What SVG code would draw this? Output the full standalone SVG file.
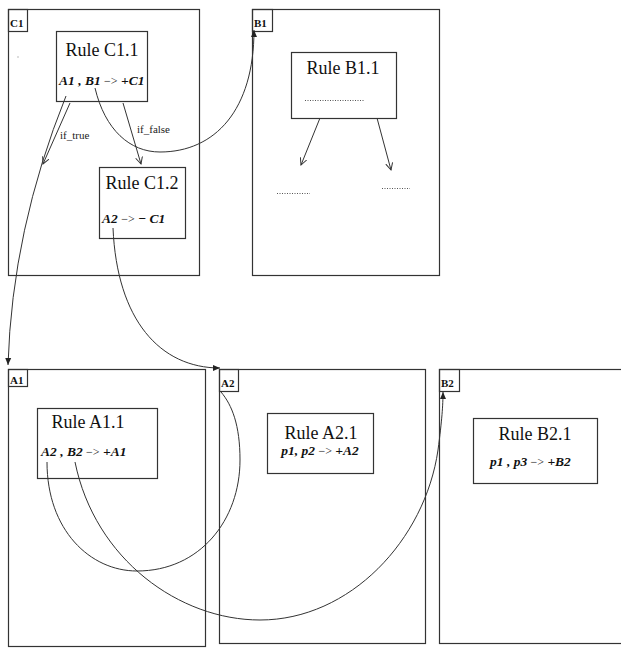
<svg xmlns="http://www.w3.org/2000/svg" width="621" height="649" viewBox="0 0 621 649">
<style>
.frame{fill:none;stroke:#333;stroke-width:1.2}
.box{fill:#fff;stroke:#333;stroke-width:1.2}
.lbl{font-family:"Liberation Serif","Times New Roman",serif;font-weight:bold;font-size:11px;fill:#111}
.title{font-family:"Liberation Serif","Times New Roman",serif;font-size:18px;fill:#111;text-anchor:middle}
.f{font-family:"Liberation Serif","Times New Roman",serif;font-size:13.5px;font-weight:bold;font-style:italic;fill:#111}
.op{font-weight:normal;font-style:normal;font-size:12px}
.small{font-family:"Liberation Serif","Times New Roman",serif;font-size:11px;fill:#222}
.c{fill:none;stroke:#333;stroke-width:1}
.dots{stroke:#555;stroke-width:1;stroke-dasharray:1 1.5}
</style>
<defs>
<marker id="v" markerWidth="8" markerHeight="8" refX="7" refY="4" orient="auto" markerUnits="userSpaceOnUse">
<path d="M0,0.5 L7,4 L0,7.5" fill="none" stroke="#333" stroke-width="1"/>
</marker>
<marker id="t" markerWidth="8" markerHeight="8" refX="7" refY="4" orient="auto" markerUnits="userSpaceOnUse">
<path d="M0,1 L7,4 L0,7 Z" fill="#222"/>
</marker>
</defs>
<rect width="621" height="649" fill="#fff"/>
<g id="C1">
<rect class="frame" x="8.5" y="9.5" width="191" height="266"/>
<rect class="frame" x="8.5" y="9.5" width="19" height="22"/>
<text class="lbl" x="10" y="27">C1</text>
<rect x="17.5" y="56.5" width="1" height="1" fill="#777"/>
</g>
<g id="C1.1">
<rect class="box" x="56.5" y="31.5" width="91" height="70"/>
<text class="title" x="102" y="56">Rule C1.1</text>
<text class="f" x="59" y="85">A1 , B1 <tspan class="op">−&gt;</tspan> +C1</text>
</g>
<g id="C1.2">
<rect class="box" x="99.5" y="167.5" width="86" height="71"/>
<text class="title" x="142" y="189">Rule C1.2</text>
<text class="f" x="102" y="223">A2 <tspan class="op">−&gt;</tspan> − C1</text>
</g>
<g id="B1">
<rect class="frame" x="252.5" y="9.5" width="187" height="266"/>
<rect class="frame" x="252.5" y="9.5" width="20" height="22"/>
<text class="lbl" x="254" y="27">B1</text>
</g>
<g id="B1.1">
<rect class="box" x="291.5" y="52.5" width="105" height="66"/>
<text class="title" x="343" y="74">Rule B1.1</text>
<line class="dots" x1="305" y1="100.5" x2="364" y2="100.5"/>
</g>
<g id="B1dots">
<line class="dots" x1="277" y1="193.5" x2="310" y2="193.5"/>
<line class="dots" x1="382" y1="188.5" x2="410" y2="188.5"/>
</g>
<g id="A1">
<rect class="frame" x="8.5" y="369.5" width="197" height="277"/>
<rect class="frame" x="8.5" y="369.5" width="19" height="17"/>
<text class="lbl" x="10" y="384">A1</text>
</g>
<g id="A1.1">
<rect class="box" x="37.5" y="408.5" width="120" height="70"/>
<text class="title" x="88" y="428">Rule A1.1</text>
<text class="f" x="41" y="456">A2 , B2 <tspan class="op">−&gt;</tspan> +A1</text>
</g>
<g id="A2">
<rect class="frame" x="219.5" y="369.5" width="206" height="274"/>
<rect class="frame" x="219.5" y="369.5" width="19" height="22"/>
<text class="lbl" x="221" y="387">A2</text>
</g>
<g id="A2.1">
<rect class="box" x="267.5" y="413.5" width="106" height="60"/>
<text class="title" x="321" y="439">Rule A2.1</text>
<text class="f" x="320" y="455" text-anchor="middle">p1, p2 <tspan class="op">−&gt;</tspan> +A2</text>
</g>
<g id="B2">
<rect class="frame" x="439.5" y="369.5" width="200" height="274"/>
<rect class="frame" x="439.5" y="369.5" width="20" height="22"/>
<text class="lbl" x="441" y="387">B2</text>
</g>
<g id="B2.1">
<rect class="box" x="473.5" y="418.5" width="124" height="65"/>
<text class="title" x="535" y="440">Rule B2.1</text>
<text class="f" x="490" y="466">p1 , p3 <tspan class="op">−&gt;</tspan> +B2</text>
</g>
<g id="connectors">
<line class="c" x1="70" y1="103" x2="43" y2="164" marker-end="url(#v)"/>
<text class="small" x="60" y="139">if_true</text>
<line class="c" x1="123" y1="103" x2="141" y2="164" marker-end="url(#v)"/>
<text class="small" x="137" y="133">if_false</text>
<path class="c" d="M66,96 Q12,230 8,365" marker-end="url(#t)"/>
<path class="c" d="M95,88 C105,130 130,152 160,152 C215,152 254,110 254,30" marker-end="url(#t)"/>
<path class="c" d="M113,228 C117,320 160,368 220,368" marker-end="url(#t)"/>
<line class="c" x1="320" y1="118" x2="301" y2="165" marker-end="url(#v)"/>
<line class="c" x1="377" y1="118" x2="391" y2="170" marker-end="url(#v)"/>
<path class="c" d="M47,462 C47,530 90,571 137,571 C200,571 240,520 240,460 C240,425 232,405 221,392"/>
<path class="c" d="M75,462 C95,560 180,620 260,620 C350,620 425,540 438,450 C442,420 443,405 443,392" marker-end="url(#t)"/>
</g>
</svg>
